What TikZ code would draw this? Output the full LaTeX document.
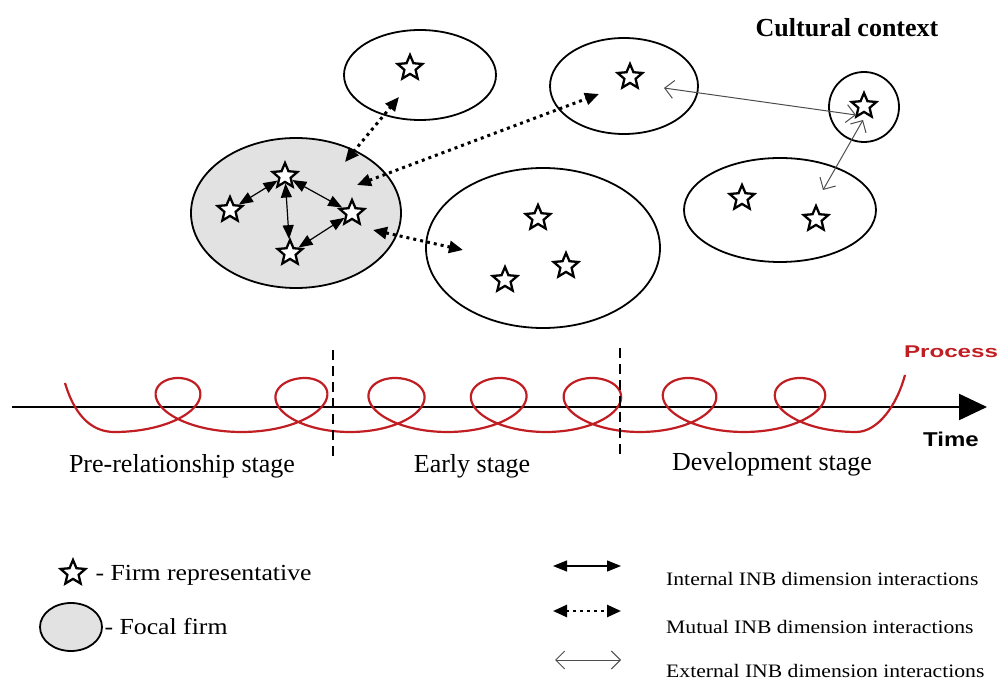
\documentclass[tikz,border=0pt]{standalone}
\usepackage{fontspec}
\setmainfont{Liberation Serif}
\setsansfont{Liberation Sans}
\usetikzlibrary{shapes.geometric,arrows.meta}
\definecolor{procred}{RGB}{192,30,35}
\definecolor{focalgray}{RGB}{226,226,226}
\begin{document}
\begin{tikzpicture}[x=1pt,y=-1pt,
  firm/.style={ellipse,draw,line width=1.8pt,inner sep=0pt},
  rep/.style={star,star points=5,star point ratio=2.2,draw,fill=white,line width=2.3pt,minimum size=26pt,inner sep=0pt},
  internal/.style={line width=1.2pt,{Triangle[length=14pt,width=11pt]}-{Triangle[length=14pt,width=11pt]}},
  mutual/.style={line width=3pt,dash pattern=on 3pt off 4pt,{Triangle[length=14pt,width=12pt]}-{Triangle[length=14pt,width=12pt]}},
  external/.style={line width=1pt,draw=black!70,{Straight Barb[length=9pt,width=18pt,line width=1pt]}-{Straight Barb[length=9pt,width=18pt,line width=1pt]}},
  stagelabel/.style={font=\fontsize{26}{30}\selectfont},
  legtext/.style={font=\fontsize{23}{27}\selectfont,anchor=west},
  legtextsmall/.style={font=\fontsize{19}{22}\selectfont,anchor=west,inner sep=1pt},
  proc/.style={draw=procred,line width=2.2pt,line join=round}
]
\useasboundingbox (0,0) rectangle (1002,684);

% firms (ellipses)
\node[firm,fill=focalgray,minimum width=210pt,minimum height=150pt] (focal) at (296,213) {};
\node[firm,minimum width=152pt,minimum height=90pt] (top1) at (420,75) {};
\node[firm,minimum width=148pt,minimum height=96pt] (top2) at (624,86) {};
\node[firm,minimum width=70pt,minimum height=70pt] (small) at (864,107) {};
\node[firm,minimum width=192pt,minimum height=104pt] (right) at (780,210) {};
\node[firm,minimum width=234pt,minimum height=160pt] (mid) at (543,248) {};

% representatives
\node[rep] (fa) at (230,210) {};
\node[rep] (fb) at (285,176) {};
\node[rep] (fc) at (352,213) {};
\node[rep] (fd) at (290,253) {};
\node[rep] (t1) at (410,68) {};
\node[rep] (t2) at (630,77) {};
\node[rep] (sm) at (864,106) {};
\node[rep] (r1) at (742,198) {};
\node[rep] (r2) at (816,219) {};
\node[rep] (m1) at (538,218) {};
\node[rep] (m2) at (505,280) {};
\node[rep] (m3) at (566,266) {};

% internal interactions
\draw[internal] (fa) -- (fb);
\draw[internal] (fb) -- (fd);
\draw[internal] (fb) -- (fc);
\draw[internal] (fd) -- (fc);

% mutual interactions
\coordinate (ma1) at (345,162);
\coordinate (mb1) at (399,97);
\coordinate (ma2) at (357,185);
\coordinate (mb2) at (599,94);
\coordinate (ma3) at (373,230);
\coordinate (mb3) at (463,250);
\draw[mutual] (ma1) -- (mb1);
\draw[mutual] (ma2) -- (mb2);
\draw[mutual] (ma3) -- (mb3);

% external interactions
\coordinate (ea1) at (664,88);
\coordinate (eb1) at (856,115);
\coordinate (ea2) at (863,120);
\coordinate (eb2) at (823,190);
\draw[external] (ea1) -- (eb1);
\draw[external] (ea2) -- (eb2);

\node[font=\bfseries\fontsize{26}{30}\selectfont] (cult) at (847,28) {Cultural context};

% time axis
\coordinate (axs) at (12,407);
\coordinate (axe) at (987,407);
\draw[line width=2.4pt,-{Triangle[length=28pt,width=26pt]}] (axs) -- (axe);

% process curve
\draw[proc] (65,383) .. controls (76,420) and (95,432) .. (114.5,432)
 -- plot[domain=-pi:0,samples=40,variable=\t] ({178+127/(2*pi)*\t-50*sin(\t r)},{405-27*cos(\t r)})
 -- plot[domain=0:2*pi,samples=80,variable=\t] ({178+127/(2*pi)*\t-50*sin(\t r)},{405-27*cos(\t r)})
 -- plot[domain=0:2*pi,samples=80,variable=\t] ({305+90/(2*pi)*\t-50*sin(\t r)},{405-27*cos(\t r)})
 -- plot[domain=0:2*pi,samples=80,variable=\t] ({395+105/(2*pi)*\t-50*sin(\t r)},{405-27*cos(\t r)})
 -- plot[domain=0:2*pi,samples=80,variable=\t] ({500+92/(2*pi)*\t-50*sin(\t r)},{405-27*cos(\t r)})
 -- plot[domain=0:2*pi,samples=80,variable=\t] ({592+96/(2*pi)*\t-50*sin(\t r)},{405-27*cos(\t r)})
 -- plot[domain=0:2*pi,samples=80,variable=\t] ({688+112/(2*pi)*\t-50*sin(\t r)},{405-27*cos(\t r)})
 -- plot[domain=0:pi,samples=40,variable=\t] ({800+112/(2*pi)*\t-50*sin(\t r)},{405-27*cos(\t r)})
 .. controls (878,432) and (897,405) .. (905,375);

% stage separators
\coordinate (d1a) at (333,350);
\coordinate (d1b) at (333,462);
\coordinate (d2a) at (620,348);
\coordinate (d2b) at (620,460);
\draw[line width=1.6pt,dash pattern=on 10pt off 6pt] (d1a) -- (d1b);
\draw[line width=1.6pt,dash pattern=on 10pt off 6pt] (d2a) -- (d2b);

\node[font=\sffamily\bfseries\fontsize{17}{20}\selectfont,text=procred] (process) at (951,352) {\scalebox{1.42}[1]{Process}};
\node[font=\sffamily\bfseries\fontsize{20}{24}\selectfont] (time) at (951,439) {\scalebox{1.2}[1]{Time}};

\node[stagelabel] (s1) at (182,466) {Pre-relationship stage};
\node[stagelabel] (s2) at (472,466) {Early stage};
\node[stagelabel] (s3) at (772,464) {Development stage};

% legend
\node[rep] (lstar) at (73,573) {};
\node[legtext] (lt1) at (92,575) {\scalebox{1.12}[1]{- Firm representative}};
\node[firm,fill=focalgray,minimum width=62pt,minimum height=48pt] (lfirm) at (71,627) {};
\node[legtext] (lt2) at (101,627) {\scalebox{1.12}[1]{- Focal firm}};

\coordinate (l1a) at (553,566);
\coordinate (l1b) at (621,566);
\coordinate (l2a) at (553,611);
\coordinate (l2b) at (621,611);
\coordinate (l3a) at (555,660);
\coordinate (l3b) at (621,660);
\draw[internal] (l1a) -- (l1b);
\draw[mutual,line width=2.5pt] (l2a) -- (l2b);
\draw[external] (l3a) -- (l3b);

\node[legtextsmall] (lt3) at (665,579) {\scalebox{1.14}[1]{Internal INB dimension interactions}};
\node[legtextsmall] (lt4) at (665,627) {\scalebox{1.14}[1]{Mutual INB dimension interactions}};
\node[legtextsmall] (lt5) at (665,671) {\scalebox{1.14}[1]{External INB dimension interactions}};
\end{tikzpicture}
\end{document}
